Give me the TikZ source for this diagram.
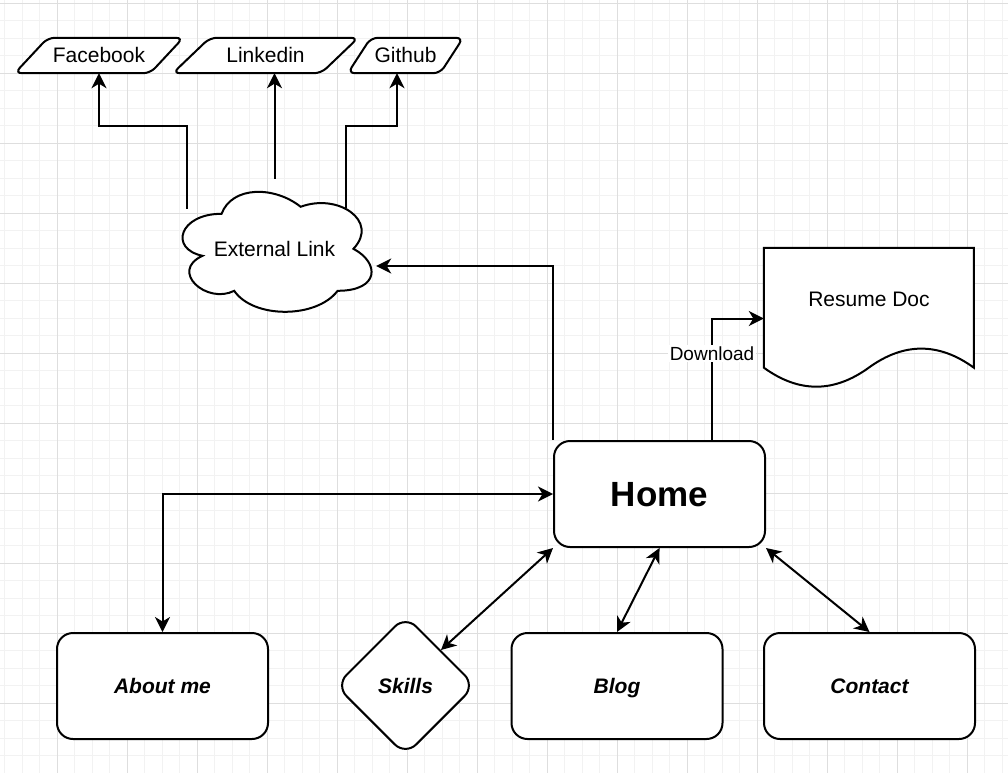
\documentclass[tikz,border=0pt]{standalone}
\usepackage{fontspec}
\setmainfont{Liberation Sans}
\usetikzlibrary{arrows.meta,shapes.geometric,calc}

\pgfdeclarelayer{gridlayer}
\pgfdeclarelayer{shapelayer}
\pgfsetlayers{gridlayer,shapelayer,main}

\definecolor{gridminor}{RGB}{242,242,242}
\definecolor{gridmajor}{RGB}{222,222,222}

\tikzset{
  outline/.style={draw=black, line width=2pt, fill=white},
  labelfont/.style={font=\fontsize{21}{25}\selectfont, text height=15pt, text depth=0pt},
  roundbox/.style={outline, rounded corners=16pt, minimum width=211pt,
    minimum height=106pt, inner sep=0pt, text height=15pt, text depth=0pt,
    font=\fontsize{21}{25}\selectfont\bfseries\itshape},
  diamondbox/.style={outline, diamond, aspect=1, minimum width=140pt,
    minimum height=140pt, inner sep=0pt, rounded corners=15pt,
    text height=15pt, text depth=0pt,
    font=\fontsize{21}{25}\selectfont\bfseries\itshape},
  parabox/.style={labelfont, minimum height=35pt, inner sep=0pt},
  headtip/.style={Stealth[length=15pt,width=15pt,inset=4.5pt]},
  link/.style={line width=2pt, draw=black, -{Stealth[length=15pt,width=15pt,inset=4.5pt]}},
  bilink/.style={line width=2pt, draw=black,
    {Stealth[length=15pt,width=15pt,inset=4.5pt]}-{Stealth[length=15pt,width=15pt,inset=4.5pt]}},
  minorline/.style={draw=gridminor, line width=1pt},
  majorline/.style={draw=gridmajor, line width=1pt},
}

\begin{document}
\begin{tikzpicture}[x=1pt, y=-1pt]
\useasboundingbox (0,0) rectangle (1008,773);

% background grid
\begin{pgfonlayer}{gridlayer}
  \fill[white] (0,0) rectangle (1008,773);
  \foreach \i in {0,...,57}
    \draw[minorline] ({4.8+17.5*\i},0) -- ({4.8+17.5*\i},773);
  \foreach \i in {0,...,43}
    \draw[minorline] (0,{3.3+17.5*\i}) -- (1008,{3.3+17.5*\i});
  \foreach \i in {0,...,13}
    \draw[majorline] ({57.3+70*\i},0) -- ({57.3+70*\i},773);
  \foreach \i in {0,...,10}
    \draw[majorline] (0,{3.3+70*\i}) -- (1008,{3.3+70*\i});
\end{pgfonlayer}

% social links
\node[parabox, minimum width=168pt] (fb) at (99,55.5) {Facebook};
\node[parabox, minimum width=185pt] (lk) at (265.5,55.5) {Linkedin};
\node[parabox, minimum width=115pt] (gh) at (405.5,55.5) {Github};

% cloud and document
\node[labelfont, minimum width=211pt, minimum height=140pt, inner sep=0pt] (cl) at (274.5,249) {External Link};
\node[minimum width=210pt, minimum height=141pt, inner sep=0pt] (doc) at (869,318.5) {};
\node[labelfont, inner sep=0pt] (docText) at ($(doc.center)+(0,-20)$) {Resume Doc};

% main pages
\node[roundbox, text height=25pt, text depth=0pt, font=\fontsize{35}{40}\selectfont\bfseries] (home) at (659.5,494) {Home};
\node[roundbox] (about) at (162.5,686) {About me};
\node[diamondbox] (skills) at (405.5,685.5) {Skills};
\node[roundbox] (blog) at (617,686) {Blog};
\node[roundbox] (contact) at (869.5,686) {Contact};

% custom outlines
\begin{pgfonlayer}{shapelayer}
  \foreach \n/\s in {fb/33, lk/37, gh/23}
    \draw[outline, rounded corners=7pt] (\n.south west) -- ($(\n.north west)+(\s,0)$)
      -- (\n.north east) -- ($(\n.south east)+(-\s,0)$) -- cycle;
  \begin{scope}[shift={(cl.north west)}, x=211pt, y=-140pt]
    \draw[outline] (0.25,0.25) .. controls (0.05,0.25) and (0,0.5) .. (0.16,0.55)
      .. controls (0,0.66) and (0.18,0.9) .. (0.31,0.8)
      .. controls (0.4,1) and (0.7,1) .. (0.8,0.8)
      .. controls (1,0.8) and (1,0.6) .. (0.875,0.5)
      .. controls (1,0.3) and (0.8,0.1) .. (0.625,0.2)
      .. controls (0.5,0.05) and (0.3,0.05) .. (0.25,0.25) -- cycle;
  \end{scope}
  \begin{scope}[shift={(doc.north west)}, x=210pt, y=-141pt]
    \draw[outline] (0,0) -- (1,0) -- (1,0.85)
      .. controls (0.8333,0.67) and (0.6667,0.67) .. (0.5,0.85)
      .. controls (0.3333,1.03) and (0.1667,1.03) .. (0,0.85) -- cycle;
  \end{scope}
\end{pgfonlayer}

% connectors
\draw[link] ($(cl.north west)+(18,30)$) -- ++(0,-83) -| (fb.south);
\draw[link] (cl.north) -- (cl.north |- lk.south);
\draw[link] ($(cl.north east)+(-34,29)$) -- ++(0,-82) -| ($(gh.south)+(-8.5,0)$);
\draw[link] (home.north west) |- ($(cl.east)+(-4,17)$);
\draw[link] ($(home.north)+(52.5,0)$) |- (doc.west)
  node[pos=0.355, fill=white, inner sep=2pt, font=\fontsize{19}{22}\selectfont,
       text height=13.5pt, text depth=0pt] (dl) {Download};
\draw[bilink] (home.west) -| (about.north);
\draw[bilink] (home.south west) -- (skills.north east);
\draw[bilink] (home.south) -- (blog.north);
\draw[bilink] (home.south east) -- (contact.north);
\end{tikzpicture}
\end{document}
